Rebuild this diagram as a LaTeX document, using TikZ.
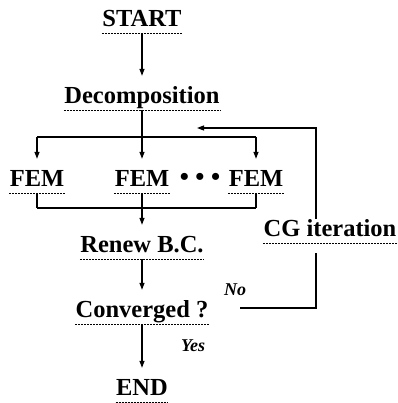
\documentclass[tikz,border=0pt]{standalone}
\usepackage{fontspec}
\setmainfont{Liberation Serif}
\usetikzlibrary{arrows.meta}

\begin{document}
\begin{tikzpicture}[x=1pt,y=-1pt,line width=1.2pt,
  lbl/.style={font=\bfseries\fontsize{24.5}{28}\selectfont,inner sep=0pt,anchor=south,text height=17pt,text depth=6pt},
  ans/.style={font=\bfseries\itshape\fontsize{18}{20}\selectfont,inner sep=0pt},
  uline/.style={line width=0.9pt,dash pattern=on 2pt off 1pt},
  tip/.style={-{Triangle[length=7pt,width=5pt]}},
  arr/.style={tip,shorten >=10pt}]
\useasboundingbox (0,0) rectangle (397,403);
\node[lbl] (start) at (142,33) {START};
\node[lbl] (dec) at (142,110) {Decomposition};
\node[lbl] (fem1) at (37,193) {FEM};
\node[lbl] (fem2) at (142,193) {FEM};
\node[lbl] (fem3) at (256,193) {FEM};
\node[font=\bfseries\fontsize{26}{28}\selectfont,inner sep=0pt] (dots) at (200,179) {• • •};
\node[lbl] (renew) at (142,259) {Renew B.C.};
\node[lbl] (conv) at (142,324) {Converged ?};
\node[lbl] (stop) at (142,402) {END};
\node[lbl] (cg) at (330,243) {CG iteration};
\node[ans] (no) at (235,290) {No};
\node[ans] (yes) at (193,346) {Yes};
% dotted underlines
\foreach \n in {start,dec,fem1,fem2,fem3,renew,conv,stop,cg}
  \draw[uline] (\n.south west) -- (\n.south east);
\coordinate (split) at (142,137);
\coordinate (join) at (142,208);
\coordinate (nofrom) at (240,308);
\coordinate (turn) at (316,128);
\coordinate (back) at (197,128);
% main flow
\draw[arr] (start.south) -- (dec.north);
\draw (dec.south) -- (split);
\draw (split -| fem1) -- (split -| fem3);
\foreach \n in {fem1,fem2,fem3} \draw[arr] (split -| \n) -- (\n.north);
\foreach \n in {fem1,fem2,fem3} \draw (\n.south) -- (join -| \n);
\draw (join -| fem1) -- (join -| fem3);
\draw[arr] (join) -- (renew.north);
\draw[arr] (renew.south) -- (conv.north);
\draw[arr] (conv.south) -- (stop.north);
% CG loop
\draw (nofrom) -| ([yshift=-10pt]cg.south -| turn);
\draw[tip] (cg.north -| turn) |- (back);
\end{tikzpicture}
\end{document}
